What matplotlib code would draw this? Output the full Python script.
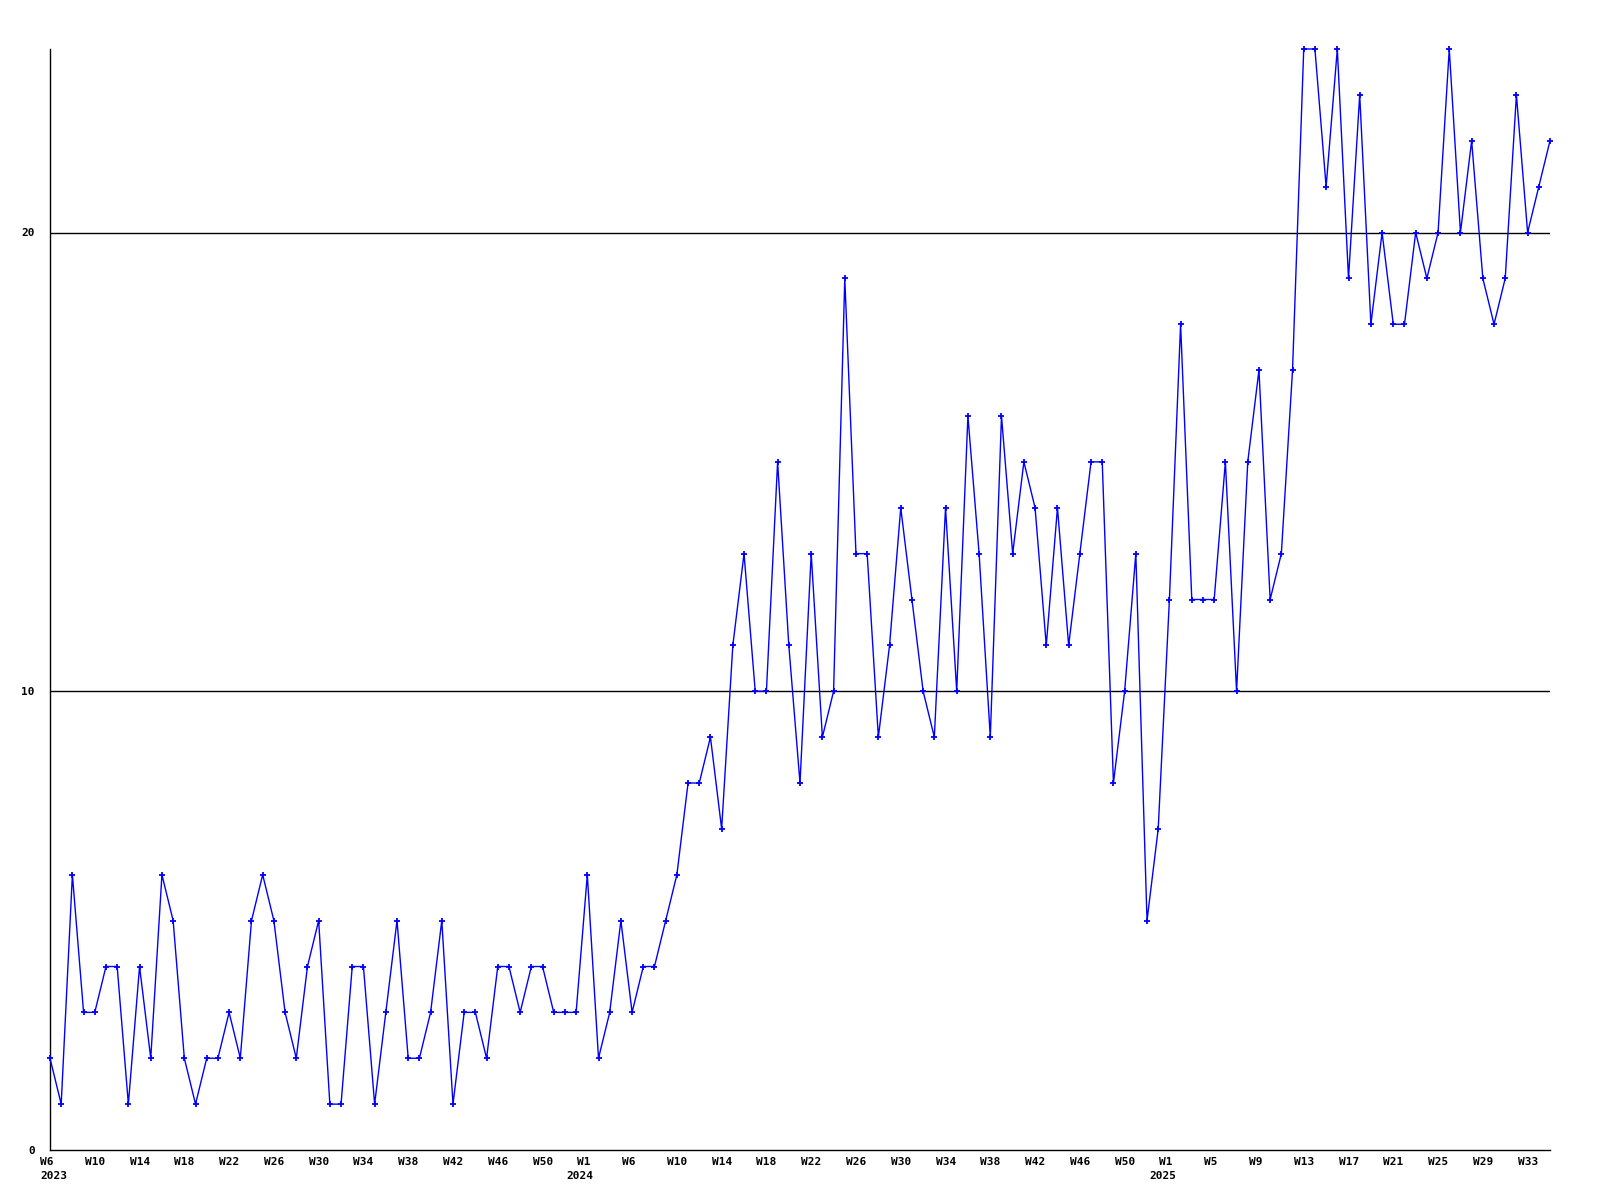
import matplotlib
matplotlib.use("Agg")
import matplotlib.pyplot as plt
from matplotlib.transforms import ScaledTranslation

values = [2, 1, 6, 3, 3, 4, 4, 1, 4, 2,
          6, 5, 2, 1, 2, 2, 3, 2, 5, 6,
          5, 3, 2, 4, 5, 1, 1, 4, 4, 1,
          3, 5, 2, 2, 3, 5, 1, 3, 3, 2,
          4, 4, 3, 4, 4, 3, 3, 3, 6, 2,
          3, 5, 3, 4, 4, 5, 6, 8, 8, 9,
          7, 11, 13, 10, 10, 15, 11, 8, 13, 9,
          10, 19, 13, 13, 9, 11, 14, 12, 10, 9,
          14, 10, 16, 13, 9, 16, 13, 15, 14, 11,
          14, 11, 13, 15, 15, 8, 10, 13, 5, 7,
          12, 18, 12, 12, 12, 15, 10, 15, 17, 12,
          13, 17, 24, 24, 21, 24, 19, 23, 18, 20,
          18, 18, 20, 19, 20, 24, 20, 22, 19, 18,
          19, 23, 20, 21, 22]

tick_labels = ["W6", "W10", "W14", "W18", "W22", "W26", "W30", "W34",
               "W38", "W42", "W46", "W50",
               "W1", "W6", "W10", "W14", "W18", "W22", "W26", "W30",
               "W34", "W38", "W42", "W46", "W50",
               "W1", "W5", "W9", "W13", "W17", "W21", "W25", "W29", "W33"]
tick_step = 4

years = ["2023", "2024", "2025"]
year_tick_index = [0, 12, 25]   # index into tick_labels
year_offsets_px = [-10, -21, -20]

y_ticks = [0, 10, 20]
y_max = 24

fig = plt.figure(figsize=(16, 12), dpi=100)
ax = fig.add_axes([50/1600, 1 - 1150/1200, 1500/1600, (1150 - 49)/1200])

x = list(range(len(values)))
ax.plot(x, values, color="#0000ff", linewidth=1.0, marker="+",
        markersize=4.5, markeredgewidth=1.3, clip_on=False, zorder=3)

ax.set_xlim(0, len(values) - 1)
ax.set_ylim(0, y_max)

for yv in y_ticks[1:]:
    ax.axhline(yv, color="black", linewidth=1.0, zorder=2)

ax.spines["top"].set_visible(False)
ax.spines["right"].set_visible(False)
for s in ("left", "bottom"):
    ax.spines[s].set_color("black")
    ax.spines[s].set_linewidth(1.0)

font = dict(family="DejaVu Sans Mono", weight="bold", size=8)

ax.set_yticks(y_ticks)
ax.set_yticklabels([str(v) for v in y_ticks], **font)
ax.tick_params(axis="y", length=0, pad=11)

tick_pos = [i * tick_step for i in range(len(tick_labels))]
ax.set_xticks(tick_pos)
ax.set_xticklabels(tick_labels, ha="left", **font)
ax.tick_params(axis="x", length=0, pad=5)
offset = ScaledTranslation(-10/100, 0, fig.dpi_scale_trans)
for lab in ax.get_xticklabels():
    lab.set_transform(lab.get_transform() + offset)

xform = ax.get_xaxis_transform()
for yr, ti, off in zip(years, year_tick_index, year_offsets_px):
    t = xform + ScaledTranslation(off/100, -21/100, fig.dpi_scale_trans)
    ax.text(tick_pos[ti], 0, yr, transform=t, ha="left", va="top",
            clip_on=False, **font)

fig.savefig("out.png", dpi=100, facecolor="white")
